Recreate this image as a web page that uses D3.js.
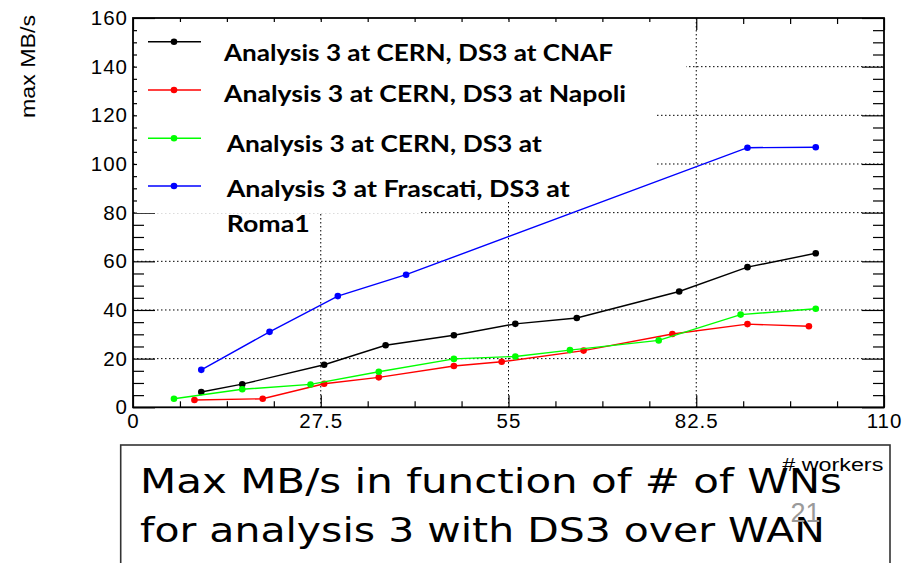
<!DOCTYPE html>
<html>
<head>
<meta charset="utf-8">
<script src="https://cdn.jsdelivr.net/npm/d3@7"></script>
<style>
  html, body { margin: 0; padding: 0; background: #fff; }
  svg { display: block; }
</style>
</head>
<body>
<svg id="chart" width="913" height="563"></svg>
<script>
// Max MB/s versus number of workers, four site combinations
const seriesNames = [
  "Analysis 3 at CERN, DS3 at CNAF",
  "Analysis 3 at CERN, DS3 at Napoli",
  "Analysis 3 at CERN, DS3 at",
  "Analysis 3 at Frascati, DS3 at"
];
const seriesColors = ["#000000", "#ff0000", "#00ff00", "#0000ff"];

const cnafX   = [10, 16, 28, 37, 47, 56, 65, 80, 90, 100];
const cnafY   = [6.3, 9.5, 17.5, 25.5, 29.6, 34.3, 36.7, 47.6, 57.6, 63.3];
const napoliX = [9, 19, 28, 36, 47, 54, 66, 79, 90, 99];
const napoliY = [3.0, 3.5, 9.7, 12.3, 17.0, 18.7, 23.3, 30.1, 34.2, 33.3];
const cernX   = [6, 16, 26, 36, 47, 56, 64, 77, 89, 100];
const cernY   = [3.5, 7.4, 9.4, 14.6, 19.9, 20.9, 23.5, 27.5, 38.1, 40.5];
const roma1X  = [10, 20, 30, 40, 90, 100];
const roma1Y  = [15.4, 31.0, 45.7, 54.5, 106.7, 106.9];

const xTicks = [0, 27.5, 55, 82.5, 110];
const xTickLabels = ["0", "27.5", "55", "82.5", "110"];
const yTicks = [0, 20, 40, 60, 80, 100, 120, 140, 160];
const yTickLabels = ["0", "20", "40", "60", "80", "100", "120", "140", "160"];

const xTitle = "# workers";
const yTitle = "max MB/s";
const captionLines = ["Max MB/s in function of # of WNs", "for analysis 3 with DS3 over WAN"];
const pageNumber = "21";

const svg = d3.select("#chart");
const plotLeft = 133, plotRight = 884, plotTop = 18, plotBottom = 407.3;

const x = d3.scaleLinear().domain([0, 110]).range([plotLeft, plotRight]);
const y = d3.scaleLinear().domain([0, 160]).range([plotBottom, plotTop]);

const xMinor = d3.range(0, 110.001, 6.875).filter(v => !xTicks.includes(v));
const yMinor = d3.range(0, 160.001, 5).filter(v => v % 20 !== 0);

// dotted grid
const grid = svg.append("g").attr("stroke", "#000").attr("stroke-width", 1)
  .attr("stroke-dasharray", "1.5,2.5").attr("fill", "none");
grid.selectAll("line.gx").data(xTicks.slice(1, -1)).join("line")
  .attr("x1", d => x(d)).attr("x2", d => x(d)).attr("y1", plotTop).attr("y2", plotBottom);
grid.selectAll("line.gy").data(yTicks.slice(1, -1)).join("line")
  .attr("x1", plotLeft).attr("x2", plotRight).attr("y1", d => y(d)).attr("y2", d => y(d));

// axes with inward ticks on all four sides
function styleAxis(g) {
  g.select(".domain").remove();
  g.selectAll(".tick line").attr("stroke", "#000").attr("stroke-width", 1.2);
  g.selectAll("text").attr("font-family", "Liberation Sans, Arial, sans-serif")
    .attr("font-size", 20.5).attr("fill", "#000").attr("letter-spacing", 1);
}
svg.append("g").attr("transform", `translate(0,${plotBottom})`)
  .call(d3.axisBottom(x).tickValues(xTicks).tickSizeInner(-12).tickSizeOuter(0)
    .tickPadding(6).tickFormat((d, i) => xTickLabels[i]))
  .call(styleAxis);
svg.append("g").attr("transform", `translate(0,${plotBottom})`)
  .call(d3.axisBottom(x).tickValues(xMinor).tickSizeInner(-6).tickSizeOuter(0).tickFormat(""))
  .call(styleAxis);
svg.append("g").attr("transform", `translate(0,${plotTop})`)
  .call(d3.axisTop(x).tickValues(xTicks).tickSizeInner(-12).tickSizeOuter(0).tickFormat(""))
  .call(styleAxis);
svg.append("g").attr("transform", `translate(0,${plotTop})`)
  .call(d3.axisTop(x).tickValues(xMinor).tickSizeInner(-6).tickSizeOuter(0).tickFormat(""))
  .call(styleAxis);
svg.append("g").attr("transform", `translate(${plotLeft},0)`)
  .call(d3.axisLeft(y).tickValues(yTicks).tickSizeInner(-22).tickSizeOuter(0)
    .tickPadding(5).tickFormat((d, i) => yTickLabels[i]))
  .call(styleAxis);
svg.append("g").attr("transform", `translate(${plotLeft},0)`)
  .call(d3.axisLeft(y).tickValues(yMinor).tickSizeInner(-11).tickSizeOuter(0).tickFormat(""))
  .call(styleAxis);
svg.append("g").attr("transform", `translate(${plotRight},0)`)
  .call(d3.axisRight(y).tickValues(yTicks).tickSizeInner(-22).tickSizeOuter(0).tickFormat(""))
  .call(styleAxis);
svg.append("g").attr("transform", `translate(${plotRight},0)`)
  .call(d3.axisRight(y).tickValues(yMinor).tickSizeInner(-11).tickSizeOuter(0).tickFormat(""))
  .call(styleAxis);

// legend background panels
const panel = svg.append("g").attr("fill", "#fff");
panel.append("rect").attr("x", 137).attr("y", 22).attr("width", 656 - 137).attr("height", 201 - 22);
panel.append("rect").attr("x", 137).attr("y", 22).attr("width", 420 - 137).attr("height", 213 - 22);
panel.append("rect").attr("x", 655).attr("y", 22).attr("width", 686 - 655).attr("height", 90 - 22);

// frame
svg.append("rect").attr("x", plotLeft).attr("y", plotTop)
  .attr("width", plotRight - plotLeft).attr("height", plotBottom - plotTop)
  .attr("fill", "none").attr("stroke", "#000").attr("stroke-width", 1.8);

// series
const seriesData = [
  d3.zip(cnafX, cnafY),
  d3.zip(napoliX, napoliY),
  d3.zip(cernX, cernY),
  d3.zip(roma1X, roma1Y)
];
const line = d3.line().x(d => x(d[0])).y(d => y(d[1]));
const plot = svg.append("g");
seriesData.forEach((pts, i) => {
  plot.append("path").datum(pts).attr("d", line).attr("fill", "none")
    .attr("stroke", seriesColors[i]).attr("stroke-width", 1.4);
  plot.selectAll(null).data(pts).join("circle")
    .attr("cx", d => x(d[0])).attr("cy", d => y(d[1])).attr("r", 3.3)
    .attr("fill", seriesColors[i]);
});

// legend entries
const legendRowY = [41.7, 90, 138.3, 186];
const legendText = [
  { t: seriesNames[0], x: 224, y: 60.7, w: 389 },
  { t: seriesNames[1], x: 224, y: 101.7, w: 402 },
  { t: seriesNames[2], x: 226.7, y: 151.7, w: 315 },
  { t: seriesNames[3], x: 226.7, y: 196.7, w: 343 },
  { t: "Roma1", x: 226.7, y: 231.7, w: 83 }
];
const legend = svg.append("g");
legendRowY.forEach((ly, i) => {
  legend.append("line").attr("x1", 148).attr("x2", 201).attr("y1", ly).attr("y2", ly)
    .attr("stroke", seriesColors[i]).attr("stroke-width", 1.4);
  legend.append("circle").attr("cx", 174).attr("cy", ly).attr("r", 3.3).attr("fill", seriesColors[i]);
});
legend.selectAll("text").data(legendText).join("text")
  .attr("x", d => d.x).attr("y", d => d.y)
  .attr("textLength", d => d.w).attr("lengthAdjust", "spacingAndGlyphs")
  .attr("font-family", "Lato, 'Open Sans', sans-serif").attr("font-weight", 700)
  .attr("font-size", 22.5).attr("fill", "#000").text(d => d.t);

// y title
svg.append("text").attr("transform", "translate(35,15) rotate(-90)")
  .attr("text-anchor", "end").attr("font-family", "Liberation Sans, Arial, sans-serif")
  .attr("font-size", 20).attr("textLength", 103).attr("lengthAdjust", "spacingAndGlyphs")
  .text(yTitle);

// caption box
svg.append("rect").attr("x", 120.7).attr("y", 445).attr("width", 890 - 120.7).attr("height", 140)
  .attr("fill", "#fff").attr("stroke", "#333").attr("stroke-width", 1.6);
const capW = [702, 685];
const capY = [493.3, 541.7];
svg.selectAll("text.cap").data(captionLines).join("text").attr("class", "cap")
  .attr("x", 140).attr("y", (d, i) => capY[i])
  .attr("textLength", (d, i) => capW[i]).attr("lengthAdjust", "spacingAndGlyphs")
  .attr("font-family", "'DejaVu Sans', sans-serif").attr("font-size", 34)
  .attr("fill", "#000").text(d => d);

// page number
svg.append("text").attr("x", 805.5).attr("y", 521.7).attr("text-anchor", "middle")
  .attr("font-family", "Liberation Sans, Arial, sans-serif").attr("font-size", 27)
  .attr("fill", "#9a9a9a").text(pageNumber);

// x title
svg.append("text").attr("x", 883.3).attr("y", 470.7).attr("text-anchor", "end")
  .attr("font-family", "Liberation Sans, Arial, sans-serif").attr("font-size", 18)
  .attr("textLength", 101).attr("lengthAdjust", "spacingAndGlyphs")
  .text(xTitle);
</script>
</body>
</html>
